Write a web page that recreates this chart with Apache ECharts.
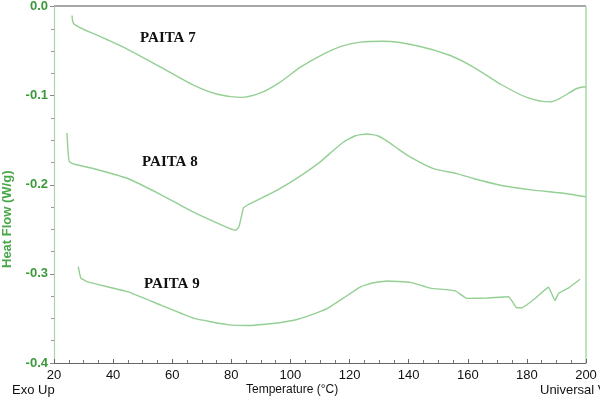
<!DOCTYPE html>
<html>
<head>
<meta charset="utf-8">
<script src="https://cdn.jsdelivr.net/npm/echarts@6/dist/echarts.min.js"></script>
<style>
  html, body { margin: 0; padding: 0; background: #fff; }
  #chart { width: 600px; height: 404px; }
</style>
</head>
<body>
<div id="chart"></div>
<script>
// temperature (°C) / heat flow (W/g) pairs
const paita7 = [
  [26.1, -0.010], [26.9, -0.020], [35.9, -0.034], [44.9, -0.048], [56.1, -0.068],
  [67.4, -0.0885], [75.3, -0.0985], [83.2, -0.102], [89.9, -0.097], [96.0, -0.086],
  [103.4, -0.068], [110.2, -0.055], [116.9, -0.045], [123.7, -0.040], [131.5, -0.039],
  [142.8, -0.044], [154.1, -0.055], [161.9, -0.068], [171.0, -0.087], [180.0, -0.102],
  [187.8, -0.107], [191.2, -0.103], [196.9, -0.092], [200.0, -0.090]
];
const paita8 = [
  [24.4, -0.142], [24.8, -0.165], [25.2, -0.174], [26.9, -0.177], [33.6, -0.182],
  [44.9, -0.193], [56.1, -0.211], [67.4, -0.231], [75.3, -0.243], [81.4, -0.251],
  [82.6, -0.247], [84.1, -0.226], [85.4, -0.223], [95.5, -0.206], [103.4, -0.190],
  [110.2, -0.174], [114.0, -0.163], [118.0, -0.152], [122.0, -0.145], [125.9, -0.143],
  [129.5, -0.145], [132.7, -0.151], [136.5, -0.160], [140.6, -0.169], [148.4, -0.182],
  [156.3, -0.1875], [161.9, -0.193], [171.0, -0.2005], [182.2, -0.206], [191.2, -0.209],
  [200.0, -0.2135]
];
const paita9 = [
  [28.2, -0.292], [28.7, -0.300], [29.1, -0.305], [31.4, -0.309], [44.9, -0.320],
  [56.1, -0.335], [67.4, -0.350], [78.7, -0.357], [85.4, -0.358], [93.0, -0.356],
  [101.2, -0.352], [107.0, -0.346], [112.4, -0.339], [118.0, -0.327], [123.7, -0.3145],
  [128.0, -0.310], [132.7, -0.308], [140.6, -0.3095], [147.3, -0.316], [155.8, -0.319],
  [159.7, -0.3275], [166.5, -0.327], [173.8, -0.3257], [176.4, -0.3376], [178.3, -0.338],
  [183.0, -0.327], [187.3, -0.315], [188.1, -0.320], [189.5, -0.330], [190.7, -0.322],
  [194.0, -0.316], [198.0, -0.306]
];
const xTicks = { min: 20, max: 200, step: 20 };
const yTicks = { min: -0.4, max: 0, step: 0.1 };
const curveNames = ['PAITA 7', 'PAITA 8', 'PAITA 9'];

const chart = echarts.init(document.getElementById('chart'));
const curveColor = '#94cf94';
const lineSeries = (name, data, smooth) => ({
  name, type: 'line', data, smooth, showSymbol: false, symbol: 'none',
  lineStyle: { color: curveColor, width: 1.4 }, silent: true
});
const labelStyle = {
  font: 'bold 15px "Liberation Serif", "DejaVu Serif", serif', fill: '#111'
};
const narrowFont = '"Liberation Sans Narrow", "Liberation Sans", Arial, sans-serif';

chart.setOption({
  animation: false,
  backgroundColor: '#fff',
  grid: { left: 54, right: 14, top: 6, bottom: 41, show: false },
  xAxis: {
    type: 'value', min: xTicks.min, max: xTicks.max, interval: xTicks.step,
    axisLine: { onZero: false, lineStyle: { color: '#666', width: 1 } },
    axisTick: { inside: true, length: 4, lineStyle: { color: '#666' } },
    minorTick: { show: true, splitNumber: 4, length: 3, lineStyle: { color: '#777' } },
    axisLabel: { color: '#111', fontSize: 13, margin: 6, fontFamily: narrowFont },
    splitLine: { show: false }
  },
  yAxis: {
    type: 'value', min: yTicks.min, max: yTicks.max, interval: yTicks.step,
    axisLine: { onZero: false, lineStyle: { color: '#a8d8a8', width: 1.2 } },
    axisTick: { length: 4, lineStyle: { color: '#888' } },
    minorTick: { show: true, splitNumber: 4, length: 3, lineStyle: { color: '#999' } },
    axisLabel: {
      color: '#3a9a3a', fontSize: 13, fontWeight: 'bold', margin: 6,
      fontFamily: '"Liberation Sans", Arial, sans-serif',
      formatter: v => v.toFixed(1)
    },
    splitLine: { show: false }
  },
  series: [
    lineSeries(curveNames[0], paita7, 0.3),
    lineSeries(curveNames[1], paita8, 0.15),
    lineSeries(curveNames[2], paita9, 0.1)
  ],
  graphic: [
    // frame: grey top line, green right line
    { type: 'line', shape: { x1: 54, y1: 6, x2: 586, y2: 6 }, style: { stroke: '#888', lineWidth: 1.5 } },
    { type: 'line', shape: { x1: 586, y1: 6, x2: 586, y2: 363 }, style: { stroke: '#a8d8a8', lineWidth: 1.5 } },
    { type: 'text', left: 140, top: 31, style: Object.assign({ text: curveNames[0] }, labelStyle) },
    { type: 'text', left: 142, top: 155, style: Object.assign({ text: curveNames[1] }, labelStyle) },
    { type: 'text', left: 144, top: 277, style: Object.assign({ text: curveNames[2] }, labelStyle) },
    {
      type: 'text', x: 1, y: 268, rotation: Math.PI / 2,
      style: { text: 'Heat Flow (W/g)', font: 'bold 13px "Liberation Sans", Arial, sans-serif', fill: '#4aa84a' }
    },
    {
      type: 'text', left: 12, top: 384,
      style: { text: 'Exo Up', font: '13px ' + narrowFont, fill: '#111' }
    },
    {
      type: 'text', left: 246, top: 384,
      style: { text: 'Temperature (°C)', font: '12px ' + narrowFont, fill: '#111' }
    },
    {
      type: 'text', left: 540, top: 384,
      style: { text: 'Universal V', font: '13px ' + narrowFont, fill: '#111' }
    }
  ]
});
</script>
</body>
</html>
